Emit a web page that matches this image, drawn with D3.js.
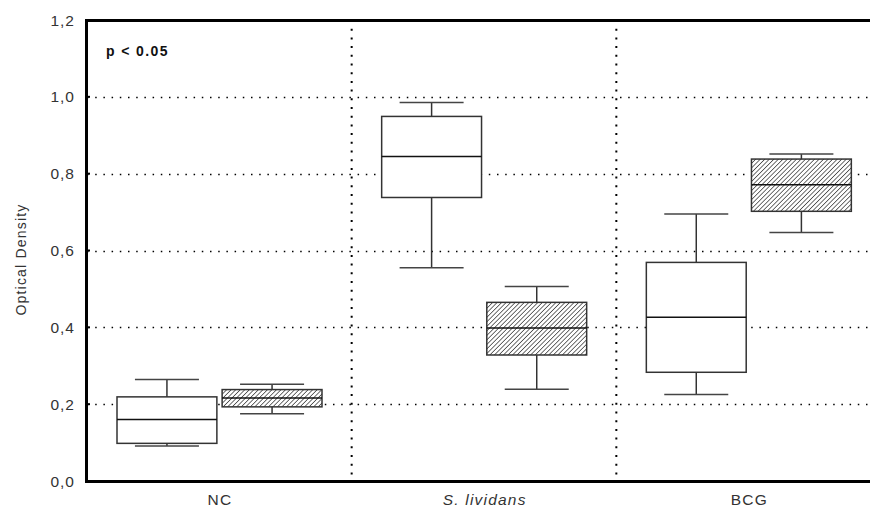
<!DOCTYPE html>
<html>
<head>
<meta charset="utf-8">
<script src="https://cdn.jsdelivr.net/npm/d3@7"></script>
<style>
  body { margin: 0; background: #fff; }
  svg { display: block; font-family: "Liberation Sans", Arial, sans-serif; }
</style>
</head>
<body>
<div id="chart"></div>
<script>
var width = 870;
var height = 508;

// data
var categories = ["NC", "S. lividans", "BCG"];
var series = ["open", "hatched"];
var yTicks = [0, 0.2, 0.4, 0.6, 0.8, 1.0, 1.2];

var openMin    = [0.091, 0.555, 0.225];
var openQ1     = [0.098, 0.738, 0.283];
var openMedian = [0.160, 0.845, 0.426];
var openQ3     = [0.219, 0.949, 0.569];
var openMax    = [0.264, 0.985, 0.695];

var hatchMin    = [0.175, 0.239, 0.647];
var hatchQ1     = [0.193, 0.328, 0.702];
var hatchMedian = [0.216, 0.398, 0.771];
var hatchQ3     = [0.238, 0.465, 0.838];
var hatchMax    = [0.252, 0.506, 0.851];

var boxes = [];
categories.forEach(function(c, i) {
  boxes.push({cat: c, s: "open", min: openMin[i], q1: openQ1[i], med: openMedian[i], q3: openQ3[i], max: openMax[i]});
  boxes.push({cat: c, s: "hatched", min: hatchMin[i], q1: hatchQ1[i], med: hatchMedian[i], q3: hatchQ3[i], max: hatchMax[i]});
});

var margin = {left: 87, top: 20, bottom: 27};
var plotRight = 881;

var svg = d3.select("#chart").append("svg")
          .attr("width", width)
          .attr("height", height);

var defs = svg.append("defs");
var pat = defs.append("pattern")
  .attr("id", "hatch")
  .attr("patternUnits", "userSpaceOnUse")
  .attr("width", 3.2).attr("height", 3.2)
  .attr("patternTransform", "rotate(45)");
pat.append("rect").attr("width", 3.2).attr("height", 3.2).attr("fill", "#fff");
pat.append("line").attr("x1", 0).attr("y1", 0).attr("x2", 0).attr("y2", 3.2)
  .attr("stroke", "#222").attr("stroke-width", 1.3);

var x = d3.scaleBand().domain(categories).range([margin.left, plotRight]);
var xs = d3.scaleBand().domain(series).range([30, 235]).paddingInner(0.05);
var y = d3.scaleLinear().domain([0, 1.2]).range([height - margin.bottom, margin.top]);

// horizontal dotted grid
svg.append("g").selectAll("line")
  .data(yTicks.filter(function(t) { return t > 0 && t < 1.2; }))
  .enter().append("line")
  .attr("x1", margin.left).attr("x2", plotRight)
  .attr("y1", function(d) { return Math.round(y(d)) + 0.5; })
  .attr("y2", function(d) { return Math.round(y(d)) + 0.5; })
  .attr("stroke", "#000").attr("stroke-width", 1.5)
  .attr("stroke-dasharray", "1.5,6.7");

// vertical dotted dividers between categories
svg.append("g").selectAll("line")
  .data(categories.slice(1))
  .enter().append("line")
  .attr("x1", function(d) { return x(d); })
  .attr("x2", function(d) { return x(d); })
  .attr("y1", margin.top).attr("y2", height - margin.bottom)
  .attr("stroke", "#000").attr("stroke-width", 2)
  .attr("stroke-dasharray", "2,6.7");

// boxes
var g = svg.append("g").selectAll("g")
  .data(boxes)
  .enter().append("g")
  .attr("transform", function(d) { return "translate(" + (x(d.cat) + xs(d.s)) + ",0)"; });

var bw = xs.bandwidth();
var capW = 64;

g.append("line")
  .attr("x1", bw / 2).attr("x2", bw / 2)
  .attr("y1", function(d) { return y(d.max); })
  .attr("y2", function(d) { return y(d.min); })
  .attr("stroke", "#333").attr("stroke-width", 1.5);

g.append("line")
  .attr("x1", (bw - capW) / 2).attr("x2", (bw + capW) / 2)
  .attr("y1", function(d) { return y(d.max); })
  .attr("y2", function(d) { return y(d.max); })
  .attr("stroke", "#444").attr("stroke-width", 1.5);

g.append("line")
  .attr("x1", (bw - capW) / 2).attr("x2", (bw + capW) / 2)
  .attr("y1", function(d) { return y(d.min); })
  .attr("y2", function(d) { return y(d.min); })
  .attr("stroke", "#444").attr("stroke-width", 1.5);

g.append("rect")
  .attr("x", 0).attr("width", bw)
  .attr("y", function(d) { return y(d.q3); })
  .attr("height", function(d) { return y(d.q1) - y(d.q3); })
  .attr("fill", function(d) { return d.s == "hatched" ? "url(#hatch)" : "#fff"; })
  .attr("stroke", "#333").attr("stroke-width", 1.5);

g.append("line")
  .attr("x1", 0).attr("x2", bw)
  .attr("y1", function(d) { return y(d.med); })
  .attr("y2", function(d) { return y(d.med); })
  .attr("stroke", "#111").attr("stroke-width", 1.5);

// frame
svg.append("path")
  .attr("d", "M" + plotRight + "," + (margin.top + 0.5) + "H" + (margin.left - 0.5) +
             "V" + (height - margin.bottom + 0.5) + "H" + plotRight)
  .attr("fill", "none").attr("stroke", "#000").attr("stroke-width", 3);

// y axis ticks and labels
var yAxis = svg.append("g");
yAxis.selectAll("line")
  .data(yTicks)
  .enter().append("line")
  .attr("x1", margin.left).attr("x2", margin.left + 3)
  .attr("y1", function(d) { return y(d); })
  .attr("y2", function(d) { return y(d); })
  .attr("stroke", "#000").attr("stroke-width", 2);

yAxis.selectAll("text")
  .data(yTicks)
  .enter().append("text")
  .attr("x", 75)
  .attr("y", function(d) { return y(d) + 5.5; })
  .attr("text-anchor", "end")
  .attr("font-size", 15.5)
  .attr("letter-spacing", 1)
  .attr("fill", "#333")
  .text(function(d) { return d3.format(".1f")(d).replace(".", ","); });

svg.append("text")
  .attr("transform", "translate(26," + 259.5 + ") rotate(-90)")
  .attr("text-anchor", "middle")
  .attr("font-size", 14)
  .attr("letter-spacing", 1.2)
  .attr("fill", "#333")
  .text("Optical Density");

// x labels
svg.append("g").selectAll("text")
  .data(categories)
  .enter().append("text")
  .attr("x", function(d) { return x(d) + xs(series[0]) + 103; })
  .attr("y", 505)
  .attr("text-anchor", "middle")
  .attr("font-size", 15.5)
  .attr("letter-spacing", 1.2)
  .attr("fill", "#333")
  .attr("font-style", function(d) { return d == "S. lividans" ? "italic" : "normal"; })
  .text(function(d) { return d; });

svg.append("text")
  .attr("x", 106).attr("y", 56)
  .attr("font-size", 14).attr("font-weight", "bold")
  .attr("letter-spacing", 1.4)
  .attr("fill", "#111")
  .text("p < 0.05");
</script>
</body>
</html>
